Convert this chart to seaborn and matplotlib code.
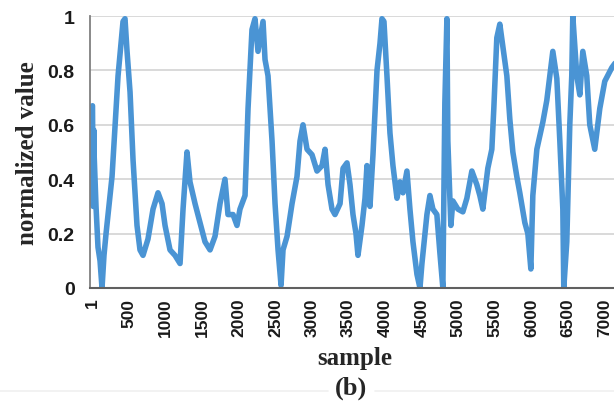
import matplotlib
matplotlib.use("Agg")
import matplotlib.pyplot as plt
from matplotlib.lines import Line2D
import seaborn as sns
import pandas as pd

# sample index and normalized value
sample = [1, 10, 20, 22, 49, 76, 104, 131, 158, 186, 268, 350, 418, 445, 473,
          514, 555, 609, 650, 691, 759, 828, 896, 951, 992, 1060, 1128, 1197,
          1238, 1292, 1333, 1402, 1470, 1538, 1607, 1675, 1743, 1811, 1852,
          1921, 1975, 2016, 2085, 2126, 2180, 2221, 2262, 2331, 2358, 2399,
          2454, 2495, 2536, 2577, 2604, 2659, 2727, 2795, 2836, 2877, 2932,
          3000, 3068, 3137, 3178, 3219, 3273, 3314, 3383, 3424, 3478, 3519,
          3560, 3601, 3628, 3683, 3724, 3751, 3792, 3833, 3888, 3929, 3956,
          3983, 4024, 4065, 4106, 4161, 4202, 4243, 4297, 4338, 4379, 4434,
          4475, 4502, 4570, 4611, 4652, 4706, 4747, 4788, 4815, 4843, 4856,
          4897, 4925, 4993, 5061, 5116, 5184, 5252, 5293, 5334, 5402, 5457,
          5484, 5525, 5566, 5607, 5662, 5703, 5744, 5798, 5839, 5908, 5949,
          5990, 6017, 6072, 6113, 6154, 6208, 6249, 6290, 6345, 6386, 6427,
          6440, 6481, 6522, 6549, 6563, 6618, 6659, 6700, 6754, 6795, 6863,
          6932, 7000, 7096, 7150]
value = [0.67, 0.30, 0.58, 0.50, 0.30, 0.15, 0.10, 0.00, 0.12, 0.20, 0.41, 0.78,
         0.98, 0.99, 0.87, 0.72, 0.47, 0.23, 0.14, 0.12, 0.18, 0.29, 0.35, 0.31,
         0.23, 0.14, 0.12, 0.09, 0.29, 0.50, 0.39, 0.31, 0.24, 0.17, 0.14, 0.19,
         0.31, 0.40, 0.27, 0.27, 0.23, 0.29, 0.34, 0.66, 0.95, 0.99, 0.87, 0.98,
         0.84, 0.78, 0.54, 0.31, 0.14, 0.01, 0.14, 0.19, 0.31, 0.41, 0.54, 0.60,
         0.51, 0.49, 0.43, 0.45, 0.51, 0.38, 0.29, 0.27, 0.31, 0.44, 0.46, 0.38,
         0.27, 0.20, 0.12, 0.23, 0.33, 0.45, 0.30, 0.49, 0.80, 0.90, 0.99, 0.98,
         0.78, 0.57, 0.45, 0.33, 0.39, 0.35, 0.43, 0.29, 0.17, 0.05, 0.00, 0.09,
         0.27, 0.34, 0.29, 0.27, 0.13, 0.00, 0.68, 0.99, 0.54, 0.23, 0.32, 0.29,
         0.28, 0.33, 0.43, 0.38, 0.34, 0.29, 0.44, 0.51, 0.66, 0.92, 0.97, 0.89,
         0.78, 0.62, 0.50, 0.41, 0.35, 0.24, 0.20, 0.07, 0.34, 0.51, 0.56, 0.61,
         0.69, 0.78, 0.87, 0.77, 0.54, 0.29, 0.00, 0.17, 0.60, 0.78, 1.00, 0.78,
         0.71, 0.87, 0.78, 0.60, 0.51, 0.66, 0.76, 0.81, 0.83]

x_ticks = [1, 500, 1000, 1500, 2000, 2500, 3000, 3500, 4000, 4500, 5000,
           5500, 6000, 6500, 7000]
y_ticks = [0, 0.2, 0.4, 0.6, 0.8, 1.0]
y_tick_labels = ["0", "0.2", "0.4", "0.6", "0.8", "1"]

df = pd.DataFrame({"sample": sample, "value": value})

sns.set_style("white")
plt.rcParams["font.family"] = ["Liberation Sans", "DejaVu Sans"]

fig = plt.figure(figsize=(6.14, 4.02), dpi=100)
ax = fig.add_axes([0.1466, 0.2811, 0.8534, 0.6766])

sns.lineplot(data=df, x="sample", y="value", ax=ax, color="#4a94d4",
             linewidth=4.0, estimator=None, sort=False)

ax.set_xlim(-33, 7126)
ax.set_ylim(0, 1)
ax.set_yticks(y_ticks)
ax.set_yticklabels(y_tick_labels, fontsize=14, fontweight="bold")
ax.set_xticks(x_ticks)
ax.set_xticklabels([str(t) for t in x_ticks], rotation=90, fontsize=12.5,
                   fontweight="bold")
ax.tick_params(axis="both", length=0, colors="#1a1a1a")
ax.tick_params(axis="y", pad=11)
ax.tick_params(axis="x", pad=7)

ax.yaxis.grid(True, color="#d9d9d9", linewidth=1.4)
ax.set_axisbelow(True)
for side in ["top", "right"]:
    ax.spines[side].set_visible(False)
ax.spines["left"].set_color("#808080")
ax.spines["bottom"].set_color("#606060")
ax.spines["left"].set_linewidth(1.3)
ax.spines["bottom"].set_linewidth(1.5)

ax.set_ylabel("normalized value", family="Liberation Serif", fontsize=18,
              fontweight="bold", labelpad=6)
ax.set_xlabel("")
fig.text(0.578, 0.108, "sample", family="Liberation Serif", fontsize=18,
         fontweight="bold", ha="center", va="center")
fig.text(0.572, 0.035, "(b)", family="Liberation Serif", fontsize=19,
         fontweight="bold", ha="center", va="center")

# faint separator line under the caption
fig.add_artist(Line2D([0.0, 0.535], [0.025, 0.025], color="#f0f0f0", lw=1.2))
fig.add_artist(Line2D([0.61, 1.0], [0.025, 0.025], color="#f0f0f0", lw=1.2))

fig.savefig("out.png", dpi=100)
